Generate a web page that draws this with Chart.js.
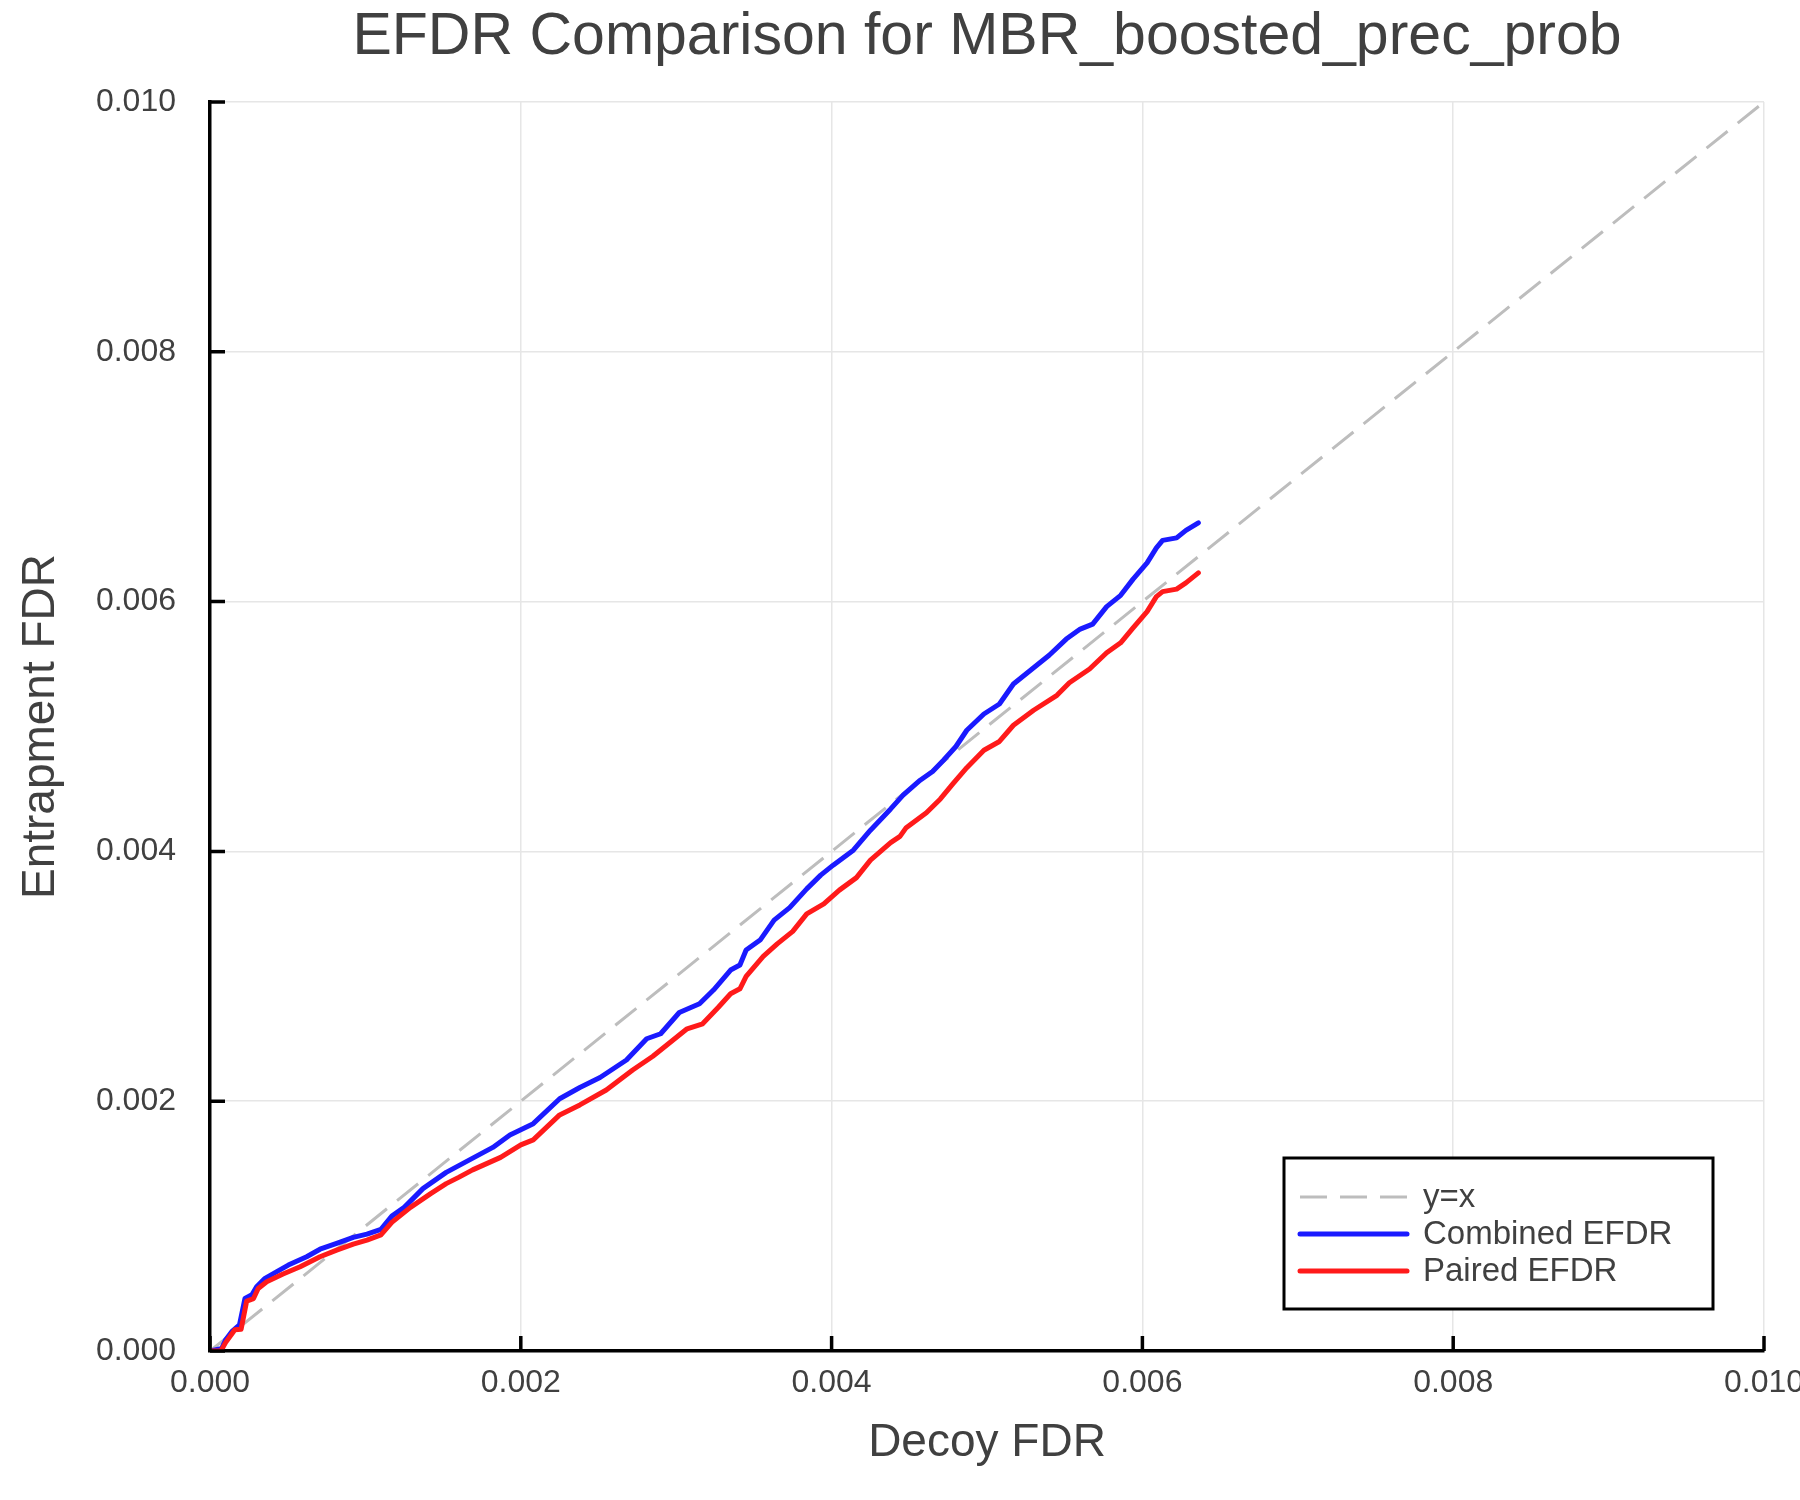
<!DOCTYPE html>
<html lang="en">
<head>
    <meta charset="UTF-8">
    <title>EFDR Comparison</title>
    <script src="https://cdn.jsdelivr.net/npm/chart.js"></script>
    <style>
        html, body {
            margin: 0;
            padding: 0;
            background: #fff;
        }
        #efdrChart {
            display: block;
        }
    </style>
</head>
<body>
    <canvas id="efdrChart" width="1800" height="1500"></canvas>

    <script>
        // values
        const refX = [0, 0.010];
        const refY = [0, 0.010];

        const combinedX = [0, 0.000075, 0.0001, 0.00014, 0.00019, 0.000225, 0.00027, 0.0003, 0.000354, 0.00043,
            0.000504, 0.000622, 0.000708, 0.000815, 0.000922, 0.00101, 0.0011, 0.00117, 0.00125, 0.00137,
            0.00152, 0.00167, 0.00182, 0.00193, 0.00208, 0.00225, 0.00238, 0.00251, 0.00268, 0.00281,
            0.0029, 0.00302, 0.00315, 0.00324, 0.00335, 0.00341, 0.00345, 0.00354, 0.00363, 0.00373,
            0.00384, 0.00393, 0.00401, 0.00414, 0.00425, 0.00438, 0.00446, 0.00457, 0.00465, 0.00472,
            0.0048, 0.00487, 0.00498, 0.00508, 0.00517, 0.0053, 0.0054, 0.00551, 0.0056, 0.00568,
            0.00577, 0.00586, 0.00594, 0.00603, 0.00609, 0.00613, 0.00622, 0.00628, 0.00636];
        const combinedY = [0, 0.00002, 0.000088, 0.000155, 0.00021, 0.00042, 0.00045, 0.000515, 0.000582, 0.000635,
            0.000688, 0.000755, 0.000815, 0.000862, 0.00091, 0.000936, 0.000974, 0.00108, 0.00115, 0.0013,
            0.00143, 0.00153, 0.00163, 0.00173, 0.00182, 0.00202, 0.00211, 0.00219, 0.00233, 0.0025,
            0.00254, 0.00271, 0.00278, 0.00289, 0.00305, 0.00309, 0.00321, 0.00329, 0.00345, 0.00355,
            0.0037, 0.00381, 0.00389, 0.00401, 0.00417, 0.00434, 0.00445, 0.00457, 0.00464, 0.00473,
            0.00484, 0.00497, 0.0051, 0.00518, 0.00534, 0.00547, 0.00557, 0.0057, 0.00578, 0.00582,
            0.00596, 0.00605, 0.00618, 0.00631, 0.00643, 0.00649, 0.00651, 0.00657, 0.00663];

        const pairedX = [0, 0.00007, 0.0001, 0.00016, 0.0002, 0.000236, 0.00028, 0.00031, 0.000365, 0.00047,
            0.00058, 0.000708, 0.000815, 0.000922, 0.00101, 0.0011, 0.00117, 0.00129, 0.00142, 0.00152,
            0.0016, 0.00169, 0.00187, 0.002, 0.00208, 0.00225, 0.00238, 0.00255, 0.00272, 0.00285,
            0.0029, 0.00307, 0.00317, 0.00327, 0.00335, 0.00341, 0.00345, 0.00356, 0.00365, 0.00375,
            0.00384, 0.00395, 0.00405, 0.00416, 0.00425, 0.00438, 0.00444, 0.00448, 0.00461, 0.0047,
            0.00478, 0.00487, 0.00498, 0.00508, 0.00517, 0.0053, 0.00545, 0.00553, 0.00566, 0.00577,
            0.00586, 0.00594, 0.00603, 0.00609, 0.00613, 0.00622, 0.00628, 0.00636];
        const pairedY = [0, 0, 0.000067, 0.00017, 0.000175, 0.0004, 0.00042, 0.0005, 0.000555, 0.000616,
            0.000675, 0.000755, 0.000808, 0.000856, 0.000888, 0.00093, 0.00103, 0.00115, 0.00126, 0.00134,
            0.00139, 0.00145, 0.00155, 0.00165, 0.00169, 0.00189, 0.00197, 0.00209, 0.00225, 0.00236,
            0.00241, 0.00258, 0.00262, 0.00275, 0.00286, 0.0029, 0.003, 0.00316, 0.00326, 0.00336,
            0.0035, 0.00358, 0.00369, 0.00379, 0.00393, 0.00407, 0.00412, 0.00419, 0.00431, 0.00442,
            0.00454, 0.00467, 0.00481, 0.00488, 0.00501, 0.00513, 0.00525, 0.00535, 0.00546, 0.00559,
            0.00567, 0.00579, 0.00592, 0.00604, 0.00608, 0.0061, 0.00615, 0.00623];

        const axisTicks = [0, 0.002, 0.004, 0.006, 0.008, 0.010];

        const toPoints = (xs, ys) => xs.map((x, i) => ({ x: x, y: ys[i] }));

        const FONT = "'Liberation Sans', Arial, Helvetica, sans-serif";
        const TEXT = '#404040';

        // short tick marks pointing into the plot, like the original
        const inwardTicks = {
            id: 'inwardTicks',
            afterDraw(chart) {
                const { ctx, chartArea: a, scales } = chart;
                ctx.save();
                ctx.strokeStyle = '#000';
                ctx.lineWidth = 3.5;
                ctx.beginPath();
                axisTicks.forEach(v => {
                    const px = scales.x.getPixelForValue(v);
                    ctx.moveTo(px, a.bottom);
                    ctx.lineTo(px, a.bottom - 15);
                    const py = scales.y.getPixelForValue(v);
                    ctx.moveTo(a.left, py);
                    ctx.lineTo(a.left + 15, py);
                });
                ctx.stroke();
                ctx.restore();
            }
        };

        // boxed legend in the lower right of the plot
        const boxLegend = {
            id: 'boxLegend',
            afterDraw(chart) {
                const { ctx, chartArea: a } = chart;
                const w = 429, h = 151;
                const left = a.right - 51 - w;
                const top = a.bottom - 42 - h;
                ctx.save();
                ctx.fillStyle = '#fff';
                ctx.fillRect(left, top, w, h);
                ctx.strokeStyle = '#000';
                ctx.lineWidth = 3;
                ctx.strokeRect(left, top, w, h);
                ctx.font = '33px ' + FONT;
                ctx.textBaseline = 'middle';
                ctx.fillStyle = TEXT;
                chart.data.datasets.forEach((ds, i) => {
                    const cy = top + 39 + i * 37;
                    ctx.beginPath();
                    ctx.strokeStyle = ds.borderColor;
                    ctx.lineWidth = ds.borderWidth;
                    ctx.setLineDash(ds.borderDash || []);
                    ctx.lineCap = ds.borderDash ? 'butt' : 'round';
                    ctx.moveTo(left + 16, cy);
                    ctx.lineTo(left + 123, cy);
                    ctx.stroke();
                    ctx.setLineDash([]);
                    ctx.fillText(ds.label, left + 139, cy + 1);
                });
                ctx.restore();
            }
        };

        const ctx = document.getElementById('efdrChart').getContext('2d');
        new Chart(ctx, {
            type: 'scatter',
            data: {
                datasets: [
                    {
                        label: 'y=x',
                        data: toPoints(refX, refY),
                        borderColor: '#bdbdbd',
                        borderWidth: 3,
                        borderDash: [27, 13],
                        showLine: true,
                        pointRadius: 0,
                        order: 2
                    },
                    {
                        label: 'Combined EFDR',
                        data: toPoints(combinedX, combinedY),
                        borderColor: '#1a1aff',
                        borderWidth: 5,
                        borderJoinStyle: 'round',
                        borderCapStyle: 'round',
                        showLine: true,
                        pointRadius: 0,
                        order: 1
                    },
                    {
                        label: 'Paired EFDR',
                        data: toPoints(pairedX, pairedY),
                        borderColor: '#ff1a1a',
                        borderWidth: 5,
                        borderJoinStyle: 'round',
                        borderCapStyle: 'round',
                        showLine: true,
                        pointRadius: 0,
                        order: 0
                    }
                ]
            },
            options: {
                responsive: false,
                animation: false,
                devicePixelRatio: 1,
                layout: {
                    padding: { left: 0, right: 36, top: 0, bottom: 0 }
                },
                plugins: {
                    legend: { display: false },
                    tooltip: { enabled: false },
                    title: {
                        display: true,
                        fullSize: false,
                        text: 'EFDR Comparison for MBR_boosted_prec_prob',
                        color: TEXT,
                        font: { family: FONT, size: 59, weight: 'normal', lineHeight: 1 },
                        padding: { top: 8, bottom: 35 }
                    }
                },
                scales: {
                    x: {
                        type: 'linear',
                        min: 0,
                        max: 0.010,
                        afterBuildTicks: s => { s.ticks = axisTicks.map(v => ({ value: v })); },
                        afterFit: s => { s.height = 149; s.paddingLeft = 0; s.paddingRight = 0; },
                        ticks: {
                            color: TEXT,
                            font: { family: FONT, size: 32 },
                            padding: 13,
                            maxRotation: 0,
                            autoSkip: false,
                            callback: v => v.toFixed(3)
                        },
                        grid: { color: '#e6e6e6', lineWidth: 1.5, drawTicks: false },
                        border: { display: true, color: '#000', width: 3.5 },
                        title: {
                            display: true,
                            text: 'Decoy FDR',
                            color: TEXT,
                            font: { family: FONT, size: 46 },
                            padding: { top: 0, bottom: 29 }
                        }
                    },
                    y: {
                        type: 'linear',
                        min: 0,
                        max: 0.010,
                        afterBuildTicks: s => { s.ticks = axisTicks.map(v => ({ value: v })); },
                        afterFit: s => { s.width = 210; s.paddingTop = 0; s.paddingBottom = 0; },
                        ticks: {
                            color: TEXT,
                            font: { family: FONT, size: 32 },
                            padding: 34,
                            autoSkip: false,
                            callback: v => v.toFixed(3)
                        },
                        grid: { color: '#e6e6e6', lineWidth: 1.5, drawTicks: false },
                        border: { display: true, color: '#000', width: 3.5 },
                        title: {
                            display: true,
                            text: 'Entrapment FDR',
                            color: TEXT,
                            font: { family: FONT, size: 46 },
                            padding: { top: 14, bottom: 0 }
                        }
                    }
                }
            },
            plugins: [inwardTicks, boxLegend]
        });
    </script>
</body>
</html>
